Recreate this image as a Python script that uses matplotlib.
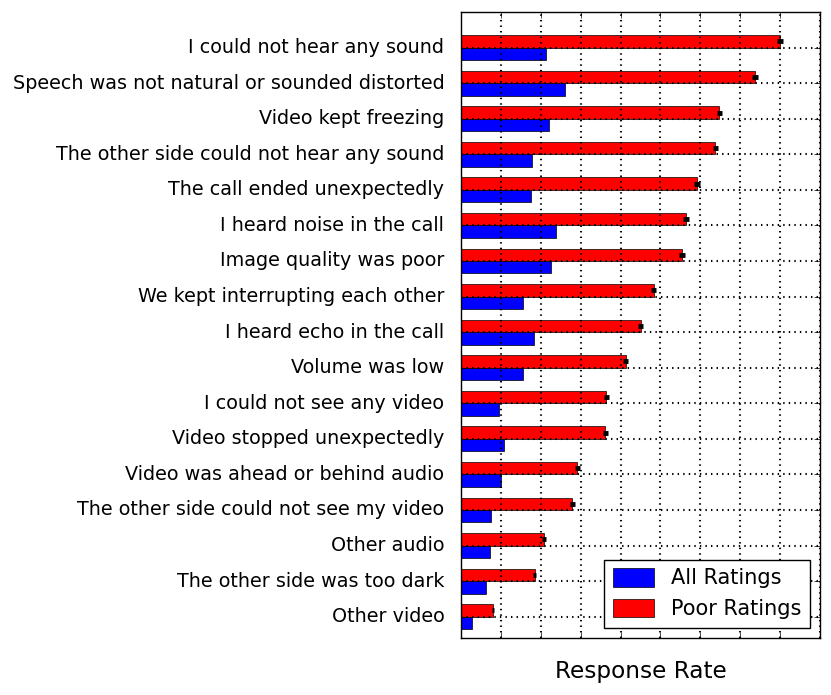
import matplotlib
matplotlib.use('Agg')
import matplotlib.pyplot as plt
import numpy as np

plt.style.use('classic')

categories = [
    'I could not hear any sound',
    'Speech was not natural or sounded distorted',
    'Video kept freezing',
    'The other side could not hear any sound',
    'The call ended unexpectedly',
    'I heard noise in the call',
    'Image quality was poor',
    'We kept interrupting each other',
    'I heard echo in the call',
    'Volume was low',
    'I could not see any video',
    'Video stopped unexpectedly',
    'Video was ahead or behind audio',
    'The other side could not see my video',
    'Other audio',
    'The other side was too dark',
    'Other video',
]
all_ratings = [0.2125, 0.261, 0.22, 0.179, 0.175, 0.238, 0.226, 0.156, 0.1825,
               0.156, 0.096, 0.1075, 0.101, 0.076, 0.0725, 0.062, 0.028]
poor_ratings = [0.80, 0.737, 0.6475, 0.6375, 0.592, 0.564, 0.554, 0.483, 0.45,
                0.4125, 0.364, 0.362, 0.291, 0.279, 0.2075, 0.185, 0.08]
poor_err = [0.008, 0.008, 0.007, 0.007, 0.007, 0.007, 0.007, 0.007, 0.007,
            0.006, 0.006, 0.006, 0.006, 0.006, 0.005, 0.004, 0.003]

n = len(categories)
y = np.arange(n)[::-1]
h = 0.35

fig = plt.figure(figsize=(8.31, 6.95), dpi=100, facecolor='white')
ax = fig.add_axes([0.5548, 0.082, 0.432, 0.9007])

ax.barh(y - h, all_ratings, height=h, align='edge', color='blue',
        edgecolor='black', linewidth=0.5, label='All Ratings')
ax.barh(y, poor_ratings, height=h, align='edge', color='red',
        edgecolor='black', linewidth=0.5, label='Poor Ratings')
ax.errorbar(poor_ratings, y + h / 2, xerr=poor_err, fmt='none',
            ecolor='black', elinewidth=3.5, capsize=0, zorder=3)

ax.set_xlim(0, 0.9)
ax.set_ylim(-0.6, n)
ax.set_xticks(np.arange(0, 0.91, 0.1))
ax.set_xticklabels([])
ax.set_yticks(y)
ax.set_yticklabels(categories, fontsize=13.8)
ax.tick_params(axis='y', pad=12)
ax.grid(True, linestyle=':', color='black', linewidth=1.5)
ax.set_axisbelow(False)
ax.set_xlabel('Response Rate', fontsize=16.7, labelpad=12)

ax.legend(loc='lower right', fontsize=15, handlelength=2.0, handleheight=1.0)

fig.savefig('out.png', dpi=100, facecolor='white')
print('Saved out.png')
